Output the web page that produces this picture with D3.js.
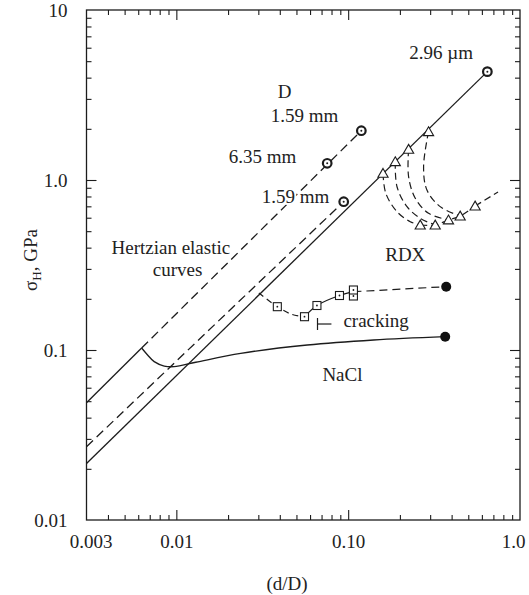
<!DOCTYPE html>
<html><head><meta charset="utf-8">
<script src="https://cdn.jsdelivr.net/npm/d3@7"></script>
<style>
body{margin:0;background:#fff;}
svg text{font-family:"Liberation Serif","Times New Roman",serif;fill:#222;}
</style></head><body>
<svg id="chart" width="529" height="595"></svg>
<script>
// ---- tick labels ----
const xTickValues = [0.003, 0.01, 0.1, 1.0];
const xTickText = ["0.003", "0.01", "0.10", "1.0"];
const yTickValues = [0.01, 0.1, 1, 10];
const yTickText = ["0.01", "0.1", "1.0", "10"];

// ---- Hertzian elastic lines ----
const hertzUpperSolid = [[0.003, 0.049], [0.00628, 0.1027]];
const hertzUpperDashed = [[0.00628, 0.1027], [0.1193, 1.95]];
const hertzLowerDashed = [[0.003, 0.027], [0.0942, 0.7454]];
const hertzLowerSolid = [[0.003, 0.0215], [0.6457, 4.34]];
const circlesD = [[0.1193, 1.95], [0.0755, 1.254], [0.0942, 0.7454], [0.6457, 4.34]];

// ---- NaCl ----
const naclCurve = [[0.00628, 0.1027], [0.0068, 0.0935], [0.00743, 0.0854], [0.0085, 0.0805],
  [0.00971, 0.0798], [0.01298, 0.0847], [0.02369, 0.0956], [0.0578, 0.107], [0.1407, 0.1145], [0.367, 0.1197]];
const naclEnd = [[0.367, 0.1197]];

// ---- RDX ----
const rdxUpper = [[0.1595, 1.095], [0.188, 1.281], [0.2247, 1.516], [0.2936, 1.923]];
const rdxLower = [[0.2627, 0.5437], [0.321, 0.5437], [0.3835, 0.582], [0.4485, 0.614], [0.548, 0.703]];
const rdxTail = [[0.548, 0.703], [0.745, 0.85]];
const rdxArc1 = [[0.1595, 1.095], [0.1656, 0.835], [0.1924, 0.651], [0.2298, 0.568], [0.2627, 0.5437]];
const rdxArc2 = [[0.188, 1.281], [0.1924, 0.913], [0.22, 0.697], [0.2627, 0.595], [0.321, 0.5437]];
const rdxArc3 = [[0.2247, 1.516], [0.2247, 1.046], [0.2457, 0.7806], [0.2936, 0.637], [0.3835, 0.582]];
const rdxArc4 = [[0.2936, 1.923], [0.2747, 1.198], [0.2873, 0.8733], [0.3433, 0.697], [0.4485, 0.614]];

// ---- squares (cracking) ----
const sqDash1 = [[0.0302, 0.2164], [0.0387, 0.1798], [0.047, 0.162], [0.0557, 0.157]];
const sqSolid = [[0.0557, 0.157], [0.0658, 0.1827], [0.089, 0.2092], [0.1073, 0.2203]];
const sqDash2 = [[0.1073, 0.2203], [0.372, 0.2358]];
const squares = [[0.0387, 0.1798], [0.0557, 0.157], [0.0658, 0.1827], [0.089, 0.2092], [0.1073, 0.2078], [0.1073, 0.2254]];
const sqEnd = [[0.372, 0.2358]];
const crackMarkV = [[0.0663, 0.1311], [0.0663, 0.1543]];
const crackMarkH = [[0.0663, 0.1422], [0.0799, 0.1422]];

// ---- annotations ----
const labelText = ["D", "1.59 mm", "2.96 µm", "6.35 mm", "1.59 mm", "Hertzian elastic", "curves", "RDX", "cracking", "NaCl"];
const labelX = [0.04265, 0.0557, 0.3478, 0.03178, 0.0494, 0.00929, 0.01016, 0.215, 0.0938, 0.0926];
const labelY = [3.038, 2.179, 5.15, 1.259, 0.7275, 0.3669, 0.2725, 0.3338, 0.1366, 0.0657];
const labelAnchor = ["middle", "middle", "middle", "middle", "middle", "middle", "middle", "middle", "start", "middle"];

const svg = d3.select("#chart");
const ink = "#1c1c1c";
const fs = 19;
const x = d3.scaleLog().domain([0.003, 1]).range([86.5, 520]);
const y = d3.scaleLog().domain([0.01, 10]).range([520, 10]);

// minor tick values
const xMinor = [];
[0.001, 0.01, 0.1].forEach(d => { for (let k = 2; k <= 9; k++) { const v = k * d; if (v > 0.0031 && v < 0.99) xMinor.push(v); } });
const xMajor = [0.01, 0.1];
const yMinor = [];
[0.01, 0.1, 1].forEach(d => { for (let k = 2; k <= 9; k++) yMinor.push(k * d); });
const yMajor = [0.1, 1];

function tickAxis(axisFn, scale, vals, size, tx, ty) {
  const g = svg.append("g").attr("transform", `translate(${tx},${ty})`)
    .call(axisFn(scale).tickValues(vals).tickSize(size).tickFormat(""));
  g.select(".domain").remove();
  g.selectAll("line").attr("stroke", ink).attr("stroke-width", 1.1);
}
tickAxis(d3.axisBottom, x, xMinor, -5, 0, y(0.01));
tickAxis(d3.axisBottom, x, xMajor, -10, 0, y(0.01));
tickAxis(d3.axisTop, x, xMinor, -5, 0, y(10));
tickAxis(d3.axisTop, x, xMajor, -10, 0, y(10));
tickAxis(d3.axisLeft, y, yMinor, -5, x(0.003), 0);
tickAxis(d3.axisLeft, y, yMajor, -10, x(0.003), 0);
tickAxis(d3.axisRight, y, yMinor, -5, x(1), 0);
tickAxis(d3.axisRight, y, yMajor, -10, x(1), 0);

// frame
svg.append("rect").attr("x", x(0.003)).attr("y", y(10))
  .attr("width", x(1) - x(0.003)).attr("height", y(0.01) - y(10))
  .attr("fill", "none").attr("stroke", ink).attr("stroke-width", 1.3);

// tick labels
const xl = svg.append("g").attr("transform", `translate(0,${y(0.01)})`)
  .call(d3.axisBottom(x).tickValues(xTickValues).tickSize(0).tickPadding(15)
    .tickFormat((d, i) => xTickText[i]));
xl.select(".domain").remove();
xl.selectAll("text").attr("font-size", fs).attr("font-family", "Liberation Serif").attr("fill", "#222")
  .attr("dx", (d, i) => i === 0 ? 4 : (i === xTickValues.length - 1 ? -7 : 0));
const yl = svg.append("g").attr("transform", `translate(${x(0.003)},0)`)
  .call(d3.axisLeft(y).tickValues(yTickValues).tickSize(0).tickPadding(19)
    .tickFormat((d, i) => yTickText[i]));
yl.select(".domain").remove();
yl.selectAll("text").attr("font-size", fs).attr("font-family", "Liberation Serif").attr("fill", "#222");

// axis titles
svg.append("text").attr("x", 287).attr("y", 590).attr("text-anchor", "middle")
  .attr("font-size", fs).text("(d/D)");
const yt = svg.append("text").attr("transform", "translate(37,260) rotate(-90)")
  .attr("text-anchor", "middle").attr("font-size", fs);
yt.append("tspan").text("σ");
yt.append("tspan").attr("font-size", 13).attr("dy", 4).text("H");
yt.append("tspan").attr("dy", -4).text(", GPa");

const line = d3.line().x(d => x(d[0])).y(d => y(d[1]));
const smooth = d3.line().x(d => x(d[0])).y(d => y(d[1])).curve(d3.curveCatmullRom.alpha(0.5));
function path(data, gen, dash, w) {
  svg.append("path").datum(data).attr("d", gen).attr("fill", "none")
    .attr("stroke", ink).attr("stroke-width", w || 1.3)
    .attr("stroke-dasharray", dash || null);
}

path(hertzUpperSolid, line);
path(hertzUpperDashed, line, "9,5");
path(hertzLowerDashed, line, "9,5");
path(hertzLowerSolid, line);
path(naclCurve, smooth);
[rdxArc1, rdxArc2, rdxArc3, rdxArc4].forEach(a => path(a, smooth, "7,4", 1.2));
path(rdxLower, smooth, "7,4", 1.2);
path(rdxTail, line, "7,4", 1.2);
path(sqDash1, smooth, "6,4", 1.2);
path(sqSolid, smooth, null, 1.2);
path(sqDash2, line, "8,5", 1.2);
path(crackMarkV, line, null, 1.2);
path(crackMarkH, line, null, 1.2);

// markers
const mk = svg.append("g");
mk.selectAll("circle.d").data(circlesD).join("circle").attr("class", "d")
  .attr("cx", d => x(d[0])).attr("cy", d => y(d[1])).attr("r", 4.3)
  .attr("fill", "#fff").attr("stroke", ink).attr("stroke-width", 2.2);
mk.selectAll("circle.dd").data(circlesD).join("circle").attr("class", "dd")
  .attr("cx", d => x(d[0])).attr("cy", d => y(d[1])).attr("r", 1).attr("fill", ink);
const tri = d3.symbol().type(d3.symbolTriangle).size(45);
mk.selectAll("path.t").data(rdxUpper.concat(rdxLower)).join("path").attr("class", "t")
  .attr("d", tri).attr("transform", d => `translate(${x(d[0])},${y(d[1]) + 1})`)
  .attr("fill", "#fff").attr("stroke", ink).attr("stroke-width", 1.1);
mk.selectAll("rect.s").data(squares).join("rect").attr("class", "s")
  .attr("x", d => x(d[0]) - 4).attr("y", d => y(d[1]) - 4).attr("width", 8).attr("height", 8)
  .attr("fill", "#fff").attr("stroke", ink).attr("stroke-width", 1.1);
mk.selectAll("circle.sd").data(squares).join("circle").attr("class", "sd")
  .attr("cx", d => x(d[0])).attr("cy", d => y(d[1])).attr("r", 0.9).attr("fill", ink);
mk.selectAll("circle.f").data(naclEnd.concat(sqEnd)).join("circle").attr("class", "f")
  .attr("cx", d => x(d[0])).attr("cy", d => y(d[1])).attr("r", 5).attr("fill", "#111");

// annotations
svg.append("g").selectAll("text").data(labelText).join("text")
  .attr("x", (d, i) => x(labelX[i])).attr("y", (d, i) => y(labelY[i]))
  .attr("text-anchor", (d, i) => labelAnchor[i]).attr("font-size", fs)
  .attr("stroke", "#fff").attr("stroke-width", 4).attr("paint-order", "stroke")
  .text(d => d);
</script>
</body></html>
